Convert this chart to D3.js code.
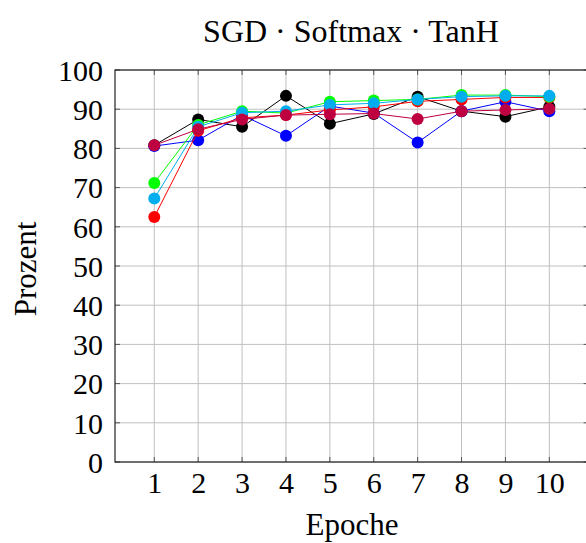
<!DOCTYPE html>
<html><head><meta charset="utf-8">
<script src="https://cdn.jsdelivr.net/npm/d3@7"></script>
<style>body{margin:0;background:#fff}svg{display:block}text{font-family:"Liberation Serif","DejaVu Serif",serif;fill:#000}</style>
</head><body><svg id="c" width="586" height="543"></svg>
<script>
const epochs = [1,2,3,4,5,6,7,8,9,10];
const yTicks = [0,10,20,30,40,50,60,70,80,90,100];
const seriesNames = ["black","blue","red","green","cyan","purple"];
const seriesColors = ["#000000","#0000ff","#ff0000","#00ff00","#00aeef","#bf0040"];
const blackVals  = [80.8,87.4,85.5,93.4,86.3,88.8,93.2,89.5,88.1,90.6];
const blueVals   = [80.6,82.1,88.5,83.2,90.8,89.0,81.5,89.5,91.9,89.5];
const redVals    = [62.5,84.5,87.8,88.5,89.8,90.6,92.0,92.5,93.0,93.0];
const greenVals  = [71.2,86.0,89.5,89.0,91.9,92.2,92.5,93.6,93.6,93.2];
const cyanVals   = [67.2,85.5,89.1,89.5,91.1,91.5,92.5,93.2,93.4,93.4];
const purpleVals = [80.8,84.9,87.4,88.5,88.7,88.9,87.5,89.5,89.8,90.1];
const allVals = [blackVals,blueVals,redVals,greenVals,cyanVals,purpleVals];

const svg = d3.select("#c");
const L=115, R=588.6, T=70, B=462;
const x = d3.scaleLinear().domain([0.105,10.895]).range([L,R]);
const y = d3.scaleLinear().domain([0,100]).range([B,T]);

// grid
svg.append("g").selectAll("line").data(epochs).join("line")
  .attr("x1",d=>x(d)).attr("x2",d=>x(d)).attr("y1",T).attr("y2",B)
  .attr("stroke","#c0c0c0").attr("stroke-width",1);
svg.append("g").selectAll("line").data(yTicks).join("line")
  .attr("x1",L).attr("x2",R).attr("y1",d=>y(d)).attr("y2",d=>y(d))
  .attr("stroke","#c0c0c0").attr("stroke-width",1);

// ticks (inside, all sides)
const tl=5;
const tk = svg.append("g").attr("stroke","#555").attr("stroke-width",1);
epochs.forEach(d=>{
  tk.append("line").attr("x1",x(d)).attr("x2",x(d)).attr("y1",B).attr("y2",B-tl);
  tk.append("line").attr("x1",x(d)).attr("x2",x(d)).attr("y1",T).attr("y2",T+tl);
});
yTicks.forEach(d=>{
  tk.append("line").attr("x1",L).attr("x2",L+tl).attr("y1",y(d)).attr("y2",y(d));
  tk.append("line").attr("x1",R).attr("x2",R-tl).attr("y1",y(d)).attr("y2",y(d));
});

// frame
svg.append("rect").attr("x",L).attr("y",T).attr("width",R-L).attr("height",B-T)
  .attr("fill","none").attr("stroke","#222").attr("stroke-width",1.2);

const FS = 30;
const xAxis = svg.append("g").attr("transform",`translate(0,${B})`)
  .call(d3.axisBottom(x).tickValues(epochs).tickSize(0).tickPadding(0).tickFormat(d3.format("d")));
xAxis.select(".domain").remove();
xAxis.selectAll("text").attr("font-size",FS).attr("dy",null).attr("y",31)
  .style("font-family",'"Liberation Serif",serif');
const yAxis = svg.append("g").attr("transform",`translate(${L},0)`)
  .call(d3.axisLeft(y).tickValues(yTicks).tickSize(0).tickPadding(12).tickFormat(d3.format("d")));
yAxis.select(".domain").remove();
yAxis.selectAll("text").attr("font-size",FS).attr("dy","0.34em")
  .style("font-family",'"Liberation Serif",serif');

// series
const line = d3.line().x((d,i)=>x(epochs[i])).y(d=>y(d));
allVals.forEach((vals,si)=>{
  const g = svg.append("g");
  g.append("path").attr("d",line(vals)).attr("fill","none")
    .attr("stroke",seriesColors[si]).attr("stroke-width",1);
  g.selectAll("circle").data(vals).join("circle")
    .attr("cx",(d,i)=>x(epochs[i])).attr("cy",d=>y(d)).attr("r",6)
    .attr("fill",seriesColors[si]);
});

// titles
svg.append("text").attr("x",351).attr("y",42).attr("text-anchor","middle")
  .attr("font-size",32).text("SGD · Softmax · TanH");
svg.append("text").attr("x",352).attr("y",535).attr("text-anchor","middle")
  .attr("font-size",31).text("Epoche");
svg.append("text").attr("transform","translate(36,269) rotate(-90)").attr("text-anchor","middle")
  .attr("font-size",31).text("Prozent");
</script></body></html>
